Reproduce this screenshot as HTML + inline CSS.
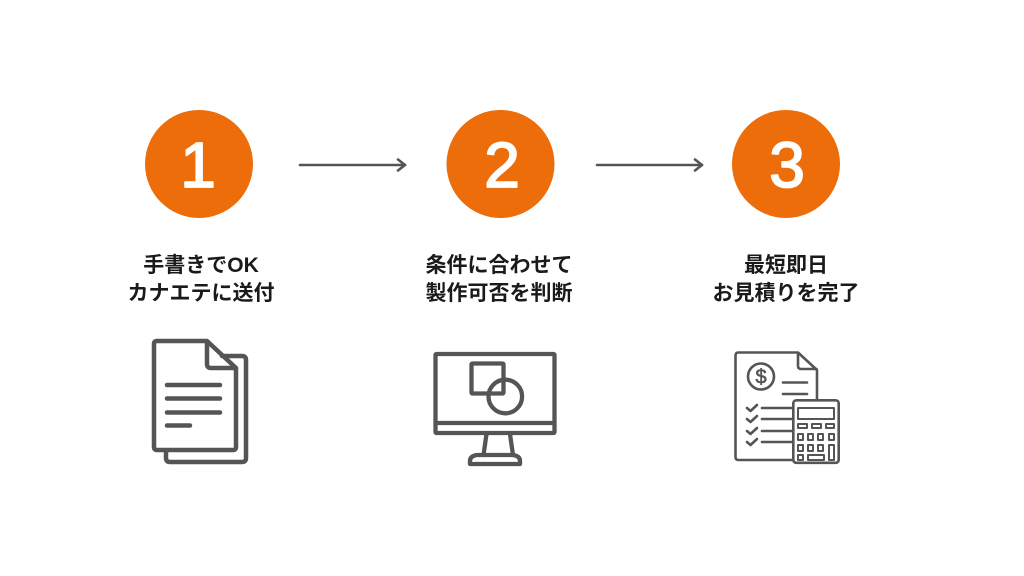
<!DOCTYPE html>
<html><head><meta charset="utf-8"><style>
html,body{margin:0;padding:0;background:#fff;}
svg{display:block;}
</style></head><body>
<svg width="1024" height="576" viewBox="0 0 1024 576" xmlns="http://www.w3.org/2000/svg">
<rect width="1024" height="576" fill="#fff"/>
<!-- circles -->
<circle cx="199" cy="164" r="54" fill="#EC6D0A"/>
<circle cx="500.5" cy="164" r="54" fill="#EC6D0A"/>
<circle cx="786" cy="164" r="54" fill="#EC6D0A"/>
<g font-family="'Liberation Sans', sans-serif" font-weight="normal" font-size="64" fill="#fff" stroke="#fff" stroke-width="1.8" stroke-linejoin="round" stroke-linecap="round" text-anchor="middle">
<text x="198" y="187">1</text>
<text x="502" y="187">2</text>
<text x="787" y="187">3</text>
</g>
<!-- arrows -->
<g stroke="#555" stroke-width="2.6" fill="none" stroke-linecap="round" stroke-linejoin="round">
<line x1="300" y1="165" x2="405" y2="165"/>
<path d="M398 159.5 L405 165 L398 170.5"/>
<line x1="597" y1="165" x2="702" y2="165"/>
<path d="M695 159.5 L702 165 L695 170.5"/>
</g>
<!-- labels -->
<g font-family="'Liberation Sans', 'Noto Sans CJK JP', sans-serif" font-weight="bold" font-size="21" fill="#1a1a1a" text-anchor="middle">
<text x="201" y="272">手書きでOK</text>
<text x="201" y="300">カナエテに送付</text>
<text x="499" y="272">条件に合わせて</text>
<text x="499" y="300">製作可否を判断</text>
<text x="786" y="272">最短即日</text>
<text x="786" y="300">お見積りを完了</text>
</g>
<!-- doc icon -->
<g stroke="#555" stroke-width="4.5" fill="none" stroke-linecap="round" stroke-linejoin="round">
<path d="M154 344 Q154 341 157 341 L207 341 L236 368 L236 447 Q236 450 233 450 L157 450 Q154 450 154 447 Z"/>
<path d="M207 342 L207 364 Q207 368 211 368 L235 368"/>
<path d="M222 356 L242 356 Q246 356 246 360 L246 458 Q246 462 242 462 L170 462 Q166 462 166 458 L166 451"/>
<line x1="167" y1="385" x2="220" y2="385"/>
<line x1="167" y1="398.5" x2="220" y2="398.5"/>
<line x1="167" y1="412.5" x2="220" y2="412.5"/>
<line x1="167" y1="425.5" x2="190" y2="425.5"/>
</g>
<!-- monitor icon -->
<g stroke="#555" stroke-width="4.3" fill="none" stroke-linecap="round" stroke-linejoin="round">
<rect x="435.5" y="354" width="119" height="79" rx="1"/>
<line x1="436" y1="423" x2="554" y2="423"/>
<rect x="471.5" y="363.5" width="32" height="30" rx="1"/>
<circle cx="505.3" cy="396.5" r="16.8"/>
<path d="M486.5 434 L483.5 455 M510 434 L513 455"/>
<path d="M477 455 L513 455 Q520 456 520 461 L520 464 L470 464 L470 461 Q470 456 477 455 Z"/>
</g>
<!-- quote/calculator icon -->
<g stroke="#555" stroke-width="2.6" fill="none" stroke-linecap="round" stroke-linejoin="round">
<path d="M792 460 L738.5 460 Q735.5 460 735.5 457 L735.5 355.5 Q735.5 352.5 738.5 352.5 L798 352.5 L817 370 L817 399"/>
<path d="M798 353 L798 366 Q798 369 801 369 L816.5 369"/>
<circle cx="761" cy="376.5" r="13"/>
<line x1="783" y1="382.5" x2="807" y2="382.5"/>
<line x1="783" y1="394" x2="807" y2="394"/>
<path d="M747 408 L750.5 411 L757 405"/>
<path d="M747 419 L750.5 422 L757 416"/>
<path d="M747 431 L750.5 434 L757 428"/>
<path d="M747 442 L750.5 445 L757 439"/>
<line x1="762" y1="408" x2="792" y2="408"/>
<line x1="762" y1="419" x2="792" y2="419"/>
<line x1="762" y1="431" x2="792" y2="431"/>
<line x1="762" y1="442" x2="792" y2="442"/>
<rect x="793.3" y="400.3" width="45.4" height="62.5" rx="3"/>
</g>
<g stroke="#555" stroke-width="2" fill="none" stroke-linejoin="round">
<rect x="798" y="408" width="36" height="11"/>
<rect x="798" y="424" width="9" height="4"/>
<rect x="812" y="424" width="9" height="4"/>
<rect x="826" y="424" width="8" height="4"/>
<rect x="798" y="434" width="5" height="6"/>
<rect x="808" y="434" width="5" height="6"/>
<rect x="818" y="434" width="5" height="6"/>
<rect x="829" y="434" width="5" height="6"/>
<rect x="798" y="445" width="5" height="6"/>
<rect x="808" y="445" width="5" height="6"/>
<rect x="818" y="445" width="5" height="6"/>
<rect x="829" y="445" width="5" height="15"/>
<rect x="798" y="455" width="5" height="5"/>
<rect x="808" y="455" width="16" height="5"/>
</g>
<text x="761" y="383.5" font-family="'Liberation Sans', sans-serif" font-size="20" fill="#555" stroke="#555" stroke-width="0.6" text-anchor="middle">$</text>
</svg>
</body></html>
